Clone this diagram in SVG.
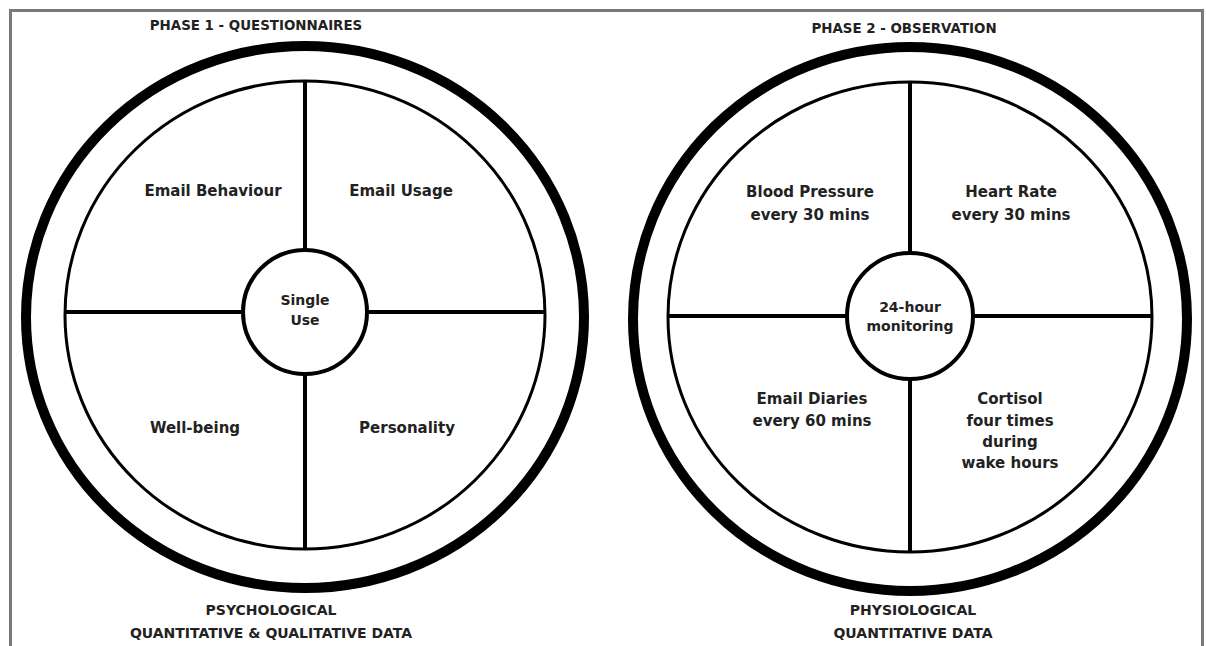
<svg xmlns="http://www.w3.org/2000/svg" width="1206" height="646" viewBox="0 0 1206 646">
<style>
.frame{fill:none;stroke:#7a7a7a;stroke-width:3}
.outer{fill:none;stroke:#000;stroke-width:10}
.inner{fill:none;stroke:#000;stroke-width:3}
.hub{fill:#fff;stroke:#000;stroke-width:4}
.ln{stroke:#000;stroke-width:4}
text{font-family:"DejaVu Sans","Liberation Sans",sans-serif;fill:#222;text-anchor:middle}
.q{font-size:15px;font-weight:bold}
.t{font-size:13.4px;font-weight:bold}
.f{font-size:14px;font-weight:bold}
.c{font-size:14px;font-weight:bold}
</style>
<rect width="1206" height="646" fill="#fff"/>
<path class="frame" d="M10.5 650 V10.5 H1202.5 V650"/>
<g id="left">
  <ellipse class="outer" cx="305" cy="317" rx="279" ry="271"/>
  <ellipse class="inner" cx="305" cy="315" rx="240" ry="234"/>
</g>
<g id="right">
  <ellipse class="outer" cx="910" cy="319" rx="277" ry="272"/>
  <ellipse class="inner" cx="910" cy="317" rx="242" ry="235"/>
</g>
<g id="connectors">
  <line class="ln" x1="65" y1="312" x2="243" y2="312"/>
  <line class="ln" x1="367" y1="312" x2="545" y2="312"/>
  <line class="ln" x1="305" y1="81" x2="305" y2="250"/>
  <line class="ln" x1="305" y1="374" x2="305" y2="549"/>
  <line class="ln" x1="668" y1="316" x2="847" y2="316"/>
  <line class="ln" x1="973" y1="316" x2="1152" y2="316"/>
  <line class="ln" x1="910" y1="82" x2="910" y2="253"/>
  <line class="ln" x1="910" y1="379" x2="910" y2="552"/>
</g>
<g id="hub1"><circle class="hub" cx="305" cy="312" r="62"/><text class="c" x="305" y="305">Single</text><text class="c" x="305" y="325">Use</text></g>
<g id="hub2"><circle class="hub" cx="910" cy="316" r="63"/><text class="c" x="910" y="312">24-hour</text><text class="c" x="910" y="331">monitoring</text></g>
<g id="title1"><text class="t" x="256" y="30">PHASE 1 - QUESTIONNAIRES</text></g>
<g id="title2"><text class="t" x="904" y="33">PHASE 2 - OBSERVATION</text></g>
<g id="emailbehaviour"><text class="q" x="213" y="196">Email Behaviour</text></g>
<g id="emailusage"><text class="q" x="401" y="196">Email Usage</text></g>
<g id="wellbeing"><text class="q" x="195" y="433">Well-being</text></g>
<g id="personality"><text class="q" x="407" y="433">Personality</text></g>
<g id="bp"><text class="q" x="810" y="197">Blood Pressure</text><text class="q" x="810" y="220">every 30 mins</text></g>
<g id="hr"><text class="q" x="1011" y="197">Heart Rate</text><text class="q" x="1011" y="220">every 30 mins</text></g>
<g id="diaries"><text class="q" x="812" y="404">Email Diaries</text><text class="q" x="812" y="426">every 60 mins</text></g>
<g id="cortisol"><text class="q" x="1010" y="404">Cortisol</text><text class="q" x="1010" y="426">four times</text><text class="q" x="1010" y="447">during</text><text class="q" x="1010" y="468">wake hours</text></g>
<g id="foot1"><text class="f" x="271" y="615">PSYCHOLOGICAL</text><text class="f" x="271" y="638">QUANTITATIVE &amp; QUALITATIVE DATA</text></g>
<g id="foot2"><text class="f" x="913" y="615">PHYSIOLOGICAL</text><text class="f" x="913" y="638">QUANTITATIVE DATA</text></g>
</svg>
